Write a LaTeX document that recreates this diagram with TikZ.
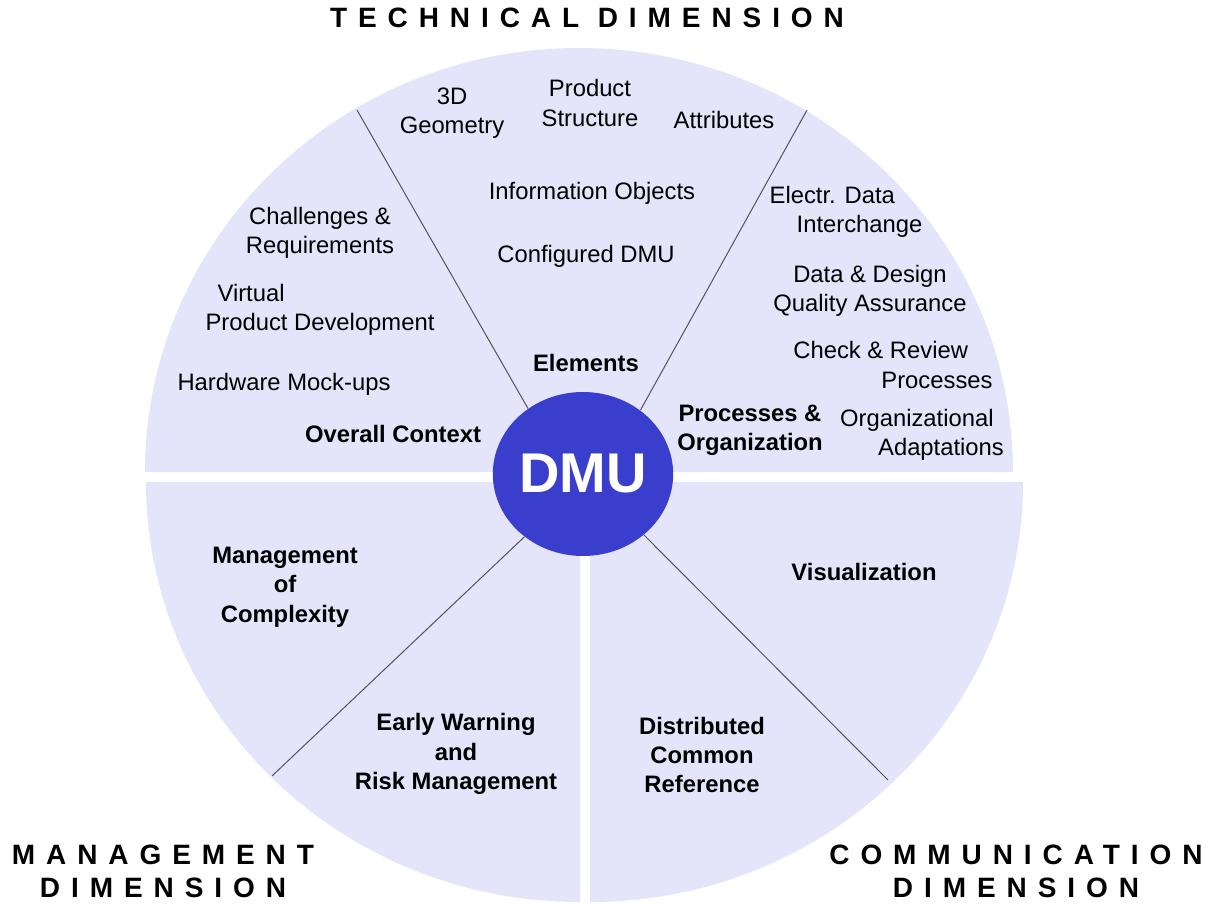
\documentclass[tikz,border=0pt]{standalone}
\usepackage{fontspec}
\setmainfont{Liberation Sans}
\newfontfamily\dimfont[LetterSpace=39]{Liberation Sans}
\usetikzlibrary{shapes.geometric}
\definecolor{piefill}{RGB}{228,228,250}
\definecolor{dmublue}{RGB}{58,62,204}
\definecolor{divline}{RGB}{85,85,85}
\tikzset{
    item/.style={align=center, inner sep=0pt, font=\fontsize{11.9}{14.7}\selectfont},
    topic/.style={align=center, inner sep=0pt, font=\fontsize{11.9}{14.7}\selectfont\bfseries},
    dimlabel/.style={align=center, inner sep=0pt, font=\dimfont\fontsize{14}{16.5}\selectfont\bfseries},
    divider/.style={draw=divline, line width=0.5pt},
    piece/.style={fill=piefill}
}
\begin{document}
\begin{tikzpicture}[x=0.5pt, y=-0.5pt]
    \useasboundingbox (0,0) rectangle (1207,906);

    \fill[piece] (145,472) arc[start angle=180, end angle=360, x radius=434, y radius=424] -- cycle;
    \fill[piece] (580,482) -- (146,482) arc[start angle=180, end angle=90, x radius=434, y radius=420] -- cycle;
    \fill[piece] (590,482) -- (1023,482) arc[start angle=0, end angle=90, x radius=433, y radius=420] -- cycle;

    \node[ellipse, fill=dmublue, minimum width=88pt, minimum height=82pt, inner sep=0pt,
        text=white, font=\fontsize{28}{30}\selectfont\bfseries] (dmu) at (583,474) {DMU};

    \coordinate (tlrim) at (357,110);
    \coordinate (trrim) at (807,110);
    \coordinate (blrim) at (272,776);
    \coordinate (brrim) at (888,780);

    \draw[divider] (dmu.130) -- (tlrim);
    \draw[divider] (dmu.48) -- (trrim);
    \draw[divider] (dmu.227) -- (blrim);
    \draw[divider] (dmu.315) -- (brrim);

    \node[dimlabel] (techdim) at (587,18) {TECHNICAL DIMENSION};
    \node[dimlabel] (mgmtdim) at (163,871) {MANAGEMENT\\DIMENSION};
    \node[dimlabel] (commdim) at (1016,871) {COMMUNICATION\\DIMENSION};

    \node[item] (geom) at (452,113) {3D\\Geometry};
    \node[item] (pstruct) at (590,103) {Product\\Structure};
    \node[item] (attr) at (724,120) {Attributes};
    \node[item] (infobj) at (592,193) {Information Objects};
    \node[item] (cfgdmu) at (586,256) {Configured DMU};
    \node[topic] (elem) at (586,363) {Elements};

    \node[item] (chreq) at (320,233) {Challenges \&\\Requirements};
    \node[item, align=left] (vpd) at (320,310) {\hspace{6pt}Virtual\\Product Development};
    \node[item] (hwmock) at (284,384) {Hardware Mock-ups};
    \node[topic] (ovctx) at (393,434) {Overall Context};

    \node[item, align=left] (edi) at (846,212) {Electr. Data\\\hspace{13.5pt}Interchange};
    \node[item] (dqa) at (870,291) {Data \& Design\\Quality Assurance};
    \node[item, align=left] (crp) at (893,365) {Check \& Review\\\hspace{44pt}Processes};
    \node[topic] (procorg) at (750,430) {Processes \&\\Organization};
    \node[item, align=left] (orgad) at (922,435) {Organizational\\\hspace{19pt}Adaptations};

    \node[topic] (mcompl) at (285,587) {Management\\of\\Complexity};
    \node[topic] (ewrm) at (456,754) {Early Warning\\and\\Risk Management};
    \node[topic] (visu) at (864,572) {Visualization};
    \node[topic] (dcr) at (702,755) {Distributed\\Common\\Reference};
\end{tikzpicture}
\end{document}
